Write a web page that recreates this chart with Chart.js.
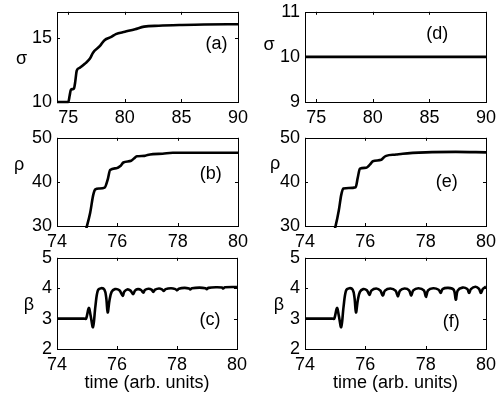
<!DOCTYPE html>
<html>
<head>
<meta charset="utf-8">
<script src="https://cdn.jsdelivr.net/npm/chart.js@4.4.1/dist/chart.umd.min.js"></script>
<style>
  html, body { margin: 0; padding: 0; background: #fff; }
  body { width: 503px; height: 396px; position: relative; overflow: hidden; }
  canvas { position: absolute; }
</style>
</head>
<body>
<canvas id="panelA"></canvas>
<canvas id="panelB"></canvas>
<canvas id="panelC"></canvas>
<canvas id="panelD"></canvas>
<canvas id="panelE"></canvas>
<canvas id="panelF"></canvas>
<script>
// ---- data ----

// (a) sigma
const sigmaA_t = [74.0, 75.0, 75.12, 75.23, 75.5, 75.6, 75.75, 76.0, 76.5, 76.9, 77.2, 77.8, 78.2, 78.8, 79.2, 80.0, 80.9, 81.7, 83.0, 85.0, 87.0, 90.0];
const sigmaA = [10, 10, 10.5, 10.95, 11.05, 11.5, 12.45, 12.65, 13.0, 13.35, 13.85, 14.35, 14.8, 15.05, 15.27, 15.45, 15.65, 15.85, 15.92, 15.98, 16.02, 16.03];

// (d) sigma (constant)
const sigmaD_t = [74, 90];
const sigmaD = [10, 10];

// (b) rho
const rhoB_t = [74.0, 74.9, 75.0, 75.1, 75.2, 75.27, 75.4, 75.58, 75.68, 75.76, 75.97, 76.1, 76.2, 76.46, 76.55, 76.65, 76.9, 77.0, 77.18, 77.5, 77.84, 78.5, 79.0, 80.0];
const rhoB = [28, 28, 30.2, 33, 37, 38.3, 38.5, 38.7, 40.5, 42.7, 43.1, 43.6, 44.4, 44.8, 45.3, 45.8, 45.9, 46.1, 46.3, 46.4, 46.6, 46.6, 46.6, 46.6];

// (e) rho
const rhoE_t = [74.0, 74.92, 75.02, 75.12, 75.2, 75.27, 75.45, 75.68, 75.75, 75.82, 76.03, 76.15, 76.25, 76.53, 76.6, 76.69, 77.02, 77.24, 78.0, 79.0, 80.0];
const rhoE = [28, 28, 30.2, 33.5, 37, 38.5, 38.6, 38.8, 41, 43, 43.2, 43.9, 44.7, 45.0, 45.5, 45.9, 46.2, 46.4, 46.7, 46.8, 46.7];

// (c) beta
const betaC_t = [74.0, 74.5, 74.9, 74.97, 75.06, 75.12, 75.2, 75.28, 75.36, 75.47, 75.58, 75.64, 75.69, 75.75, 75.82, 75.93,
  76.08, 76.19, 76.24, 76.34, 76.45, 76.54, 76.6, 76.7, 76.8, 76.88, 76.93, 77.05, 77.15, 77.21, 77.27, 77.4,
  77.5, 77.56, 77.62, 77.8, 77.95, 78.0, 78.06, 78.25, 78.4, 78.44, 78.5, 78.75, 78.95, 78.99, 79.05, 79.3,
  79.5, 79.54, 79.6, 80.0];
const betaC = [3, 3, 3, 3, 3.35, 3.1, 2.72, 3.4, 3.92, 4.0, 3.95, 3.7, 3.2, 3.6, 3.88, 3.97,
  3.93, 3.75, 3.88, 3.96, 3.92, 3.8, 3.92, 3.97, 3.94, 3.85, 3.94, 3.98, 3.95, 3.88, 3.95, 3.99,
  3.96, 3.91, 3.97, 4.0, 3.97, 3.93, 3.98, 4.01, 3.99, 3.96, 4.0, 4.02, 4.0, 3.97, 4.01, 4.03,
  4.02, 3.99, 4.03, 4.04];

// (f) beta
const betaF_t = [74.0, 74.5, 74.9, 74.97, 75.06, 75.12, 75.2, 75.28, 75.36, 75.47, 75.58, 75.64, 75.69, 75.75, 75.82, 75.93,
  76.05, 76.14, 76.2, 76.36, 76.5, 76.58, 76.65, 76.83, 77.0, 77.08, 77.15, 77.3, 77.45, 77.52, 77.59, 77.76,
  77.94, 78.01, 78.08, 78.25, 78.43, 78.5, 78.56, 78.75, 78.93, 79.0, 79.06, 79.22, 79.38, 79.44, 79.5, 79.65,
  79.77, 79.83, 79.9, 80.0];
const betaF = [3, 3, 3, 3, 3.35, 3.1, 2.72, 3.4, 3.92, 4.0, 3.95, 3.7, 3.2, 3.6, 3.88, 3.97,
  3.93, 3.78, 3.92, 3.99, 3.92, 3.75, 3.92, 3.99, 3.92, 3.73, 3.92, 3.99, 3.93, 3.75, 3.93, 4.0,
  3.93, 3.71, 3.93, 4.0, 3.95, 3.84, 3.97, 4.01, 3.95, 3.62, 3.92, 4.02, 3.97, 3.84, 3.97, 4.05,
  3.98, 3.84, 3.98, 4.05];

// tick labels
const xTicksLong = [75, 80, 85, 90];
const xTicksShort = [74, 76, 78, 80];
const yTicksSigmaA = [10, 15];
const yTicksSigmaD = [9, 10, 11];
const yTicksRho = [30, 40, 50];
const yTicksBeta = [2, 3, 4, 5];

const xTitle = 'time (arb. units)';

// ---- drawing ----
const FONT = "'Liberation Sans', Arial, Helvetica, sans-serif";
Chart.defaults.font.family = FONT;
Chart.defaults.font.size = 18;
Chart.defaults.color = '#000';

const PAD_L = 57, PAD_T = 14, PAD_R = 14;

// frame, inward ticks on all four sides, y label and panel tag
const matlabAxes = {
  id: 'matlabAxes',
  afterDraw(chart, args, opts) {
    const { ctx, chartArea: a, scales } = chart;
    ctx.save();
    ctx.strokeStyle = '#000';
    ctx.lineWidth = 1;
    ctx.beginPath();
    scales.x.ticks.forEach(t => {
      const px = Math.round(scales.x.getPixelForValue(t.value)) + 0.5;
      ctx.moveTo(px, a.bottom); ctx.lineTo(px, a.bottom - 3);
      ctx.moveTo(px, a.top); ctx.lineTo(px, a.top + 3);
    });
    scales.y.ticks.forEach(t => {
      const py = Math.round(scales.y.getPixelForValue(t.value)) + 0.5;
      ctx.moveTo(a.left, py); ctx.lineTo(a.left + 3, py);
      ctx.moveTo(a.right, py); ctx.lineTo(a.right - 3, py);
    });
    ctx.stroke();
    ctx.strokeRect(Math.round(a.left) + 0.5, Math.round(a.top) + 0.5,
      Math.round(a.right - a.left), Math.round(a.bottom - a.top));

    ctx.fillStyle = '#000';
    ctx.font = '18px ' + FONT;
    ctx.textAlign = 'center';
    ctx.textBaseline = 'middle';
    ctx.fillText(opts.ylabel, a.left + opts.ylabelDx, (a.top + a.bottom) / 2 + opts.ylabelDy);
    ctx.fillText(opts.tag, scales.x.getPixelForValue(opts.tagAt[0]), scales.y.getPixelForValue(opts.tagAt[1]));
    ctx.restore();
  }
};

function makePanel(id, box, t, values, xr, xTicks, yr, yTicks, bottomRow, ylabel, ylabelDx, ylabelDy, tag, tagAt, smooth) {
  const xh = bottomRow ? 45 : 26;
  const canvas = document.getElementById(id);
  canvas.width = PAD_L + box.w + PAD_R;
  canvas.height = PAD_T + box.h + xh;
  canvas.style.left = (box.left - PAD_L) + 'px';
  canvas.style.top = (box.top - PAD_T) + 'px';

  const ds = {
    data: t.map((v, i) => ({ x: v, y: values[i] })),
    borderColor: '#000',
    borderWidth: 2.6,
    pointRadius: 0,
    clip: 2
  };
  if (smooth === 'monotone') ds.cubicInterpolationMode = 'monotone';
  else ds.tension = smooth;

  return new Chart(canvas, {
    type: 'line',
    data: { datasets: [ds] },
    options: {
      responsive: false,
      animation: false,
      layout: { padding: { left: 0, top: PAD_T, right: PAD_R, bottom: 0 } },
      plugins: {
        legend: { display: false },
        tooltip: { enabled: false },
        matlabAxes: { ylabel, ylabelDx, ylabelDy, tag, tagAt }
      },
      scales: {
        x: {
          type: 'linear',
          min: xr[0], max: xr[1],
          grid: { display: false, drawTicks: false },
          border: { display: false },
          ticks: { padding: 5, maxRotation: 0, autoSkip: false },
          afterBuildTicks: s => { s.ticks = xTicks.map(v => ({ value: v })); },
          afterFit: s => { s.height = xh; },
          title: { display: bottomRow, text: xTitle, padding: 0, font: { size: 18 } }
        },
        y: {
          type: 'linear',
          min: yr[0], max: yr[1],
          grid: { display: false, drawTicks: false },
          border: { display: false },
          ticks: { padding: 5, autoSkip: false },
          afterBuildTicks: s => { s.ticks = yTicks.map(v => ({ value: v })); },
          afterFit: s => { s.width = PAD_L; }
        }
      }
    },
    plugins: [matlabAxes]
  });
}

makePanel('panelA', { left: 57, top: 10, w: 182, h: 92 }, sigmaA_t, sigmaA, [74, 90], xTicksLong, [10, 17], yTicksSigmaA, false, 'σ', -35.5, 2, '(a)', [88.1, 14.5], 'monotone');
makePanel('panelD', { left: 305, top: 10, w: 182, h: 92 }, sigmaD_t, sigmaD, [74, 90], xTicksLong, [9, 11], yTicksSigmaD, false, 'σ', -36, -12, '(d)', [85.7, 10.5], 0);
makePanel('panelB', { left: 57, top: 136, w: 182, h: 90 }, rhoB_t, rhoB, [74, 80], xTicksShort, [30, 50], yTicksRho, false, 'ρ', -38, -17, '(b)', [79.1, 41.8], 'monotone');
makePanel('panelE', { left: 305, top: 136, w: 182, h: 90 }, rhoE_t, rhoE, [74, 80], xTicksShort, [30, 50], yTicksRho, false, 'ρ', -30, -18, '(e)', [78.7, 40], 'monotone');
makePanel('panelC', { left: 57, top: 256, w: 181, h: 93 }, betaC_t, betaC, [74, 80], xTicksShort, [2, 5], yTicksBeta, true, 'β', -28, 1.5, '(c)', [79.1, 2.95], 0.35);
makePanel('panelF', { left: 305, top: 256, w: 182, h: 93 }, betaF_t, betaF, [74, 80], xTicksShort, [2, 5], yTicksBeta, true, 'β', -26, 1.5, '(f)', [78.85, 2.9], 0.35);
</script>
</body>
</html>
